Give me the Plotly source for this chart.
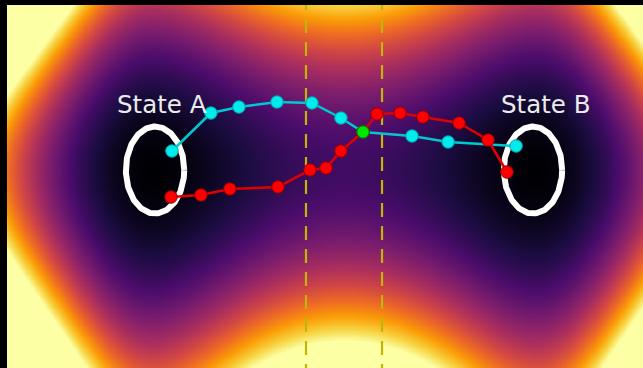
import numpy as np
import plotly.graph_objects as go

# --- potential energy surface (reduced units) -------------------------------
X_RANGE = [-1.755, 1.557]
Y_RANGE = [-1.98, 1.65]
KX_OUTER = 1.2        # curvature outside the wells
BARRIER = 0.20        # saddle height between the wells
KY_TOP = 0.177        # confinement above the channel
KY_BOTTOM = 0.153     # confinement below the channel
PINCH_TOP = 0.45      # extra confinement near the saddle (upper side)
PINCH_BOTTOM = 0.8    # extra confinement near the saddle (lower side)
CORNER_COUPLING = 3.2

# --- sampled paths ----------------------------------------------------------
path1_x = [-0.896, -0.693, -0.547, -0.349, -0.167, -0.016, 0.099, 0.354, 0.542, 0.896]
path1_y = [0.19, 0.57, 0.63, 0.68, 0.67, 0.52, 0.38, 0.34, 0.28, 0.24]

path2_x = [-0.901, -0.745, -0.594, -0.344, -0.177, -0.094, -0.016, 0.099,
           0.172, 0.292, 0.411, 0.599, 0.75, 0.849]
path2_y = [-0.27, -0.25, -0.19, -0.17, 0.0, 0.02, 0.19, 0.38,
           0.56, 0.57, 0.53, 0.47, 0.30, -0.02]

saddle_x = [0.099]
saddle_y = [0.38]

# dividing surfaces
surface_x = [-0.198, 0.198]

# metastable basins
state_names = ["State A", "State B"]
state_cx = [-0.984, 0.984]
state_cy = [0.0, 0.0]
state_ax = [0.152, 0.152]
state_ay = [0.435, 0.435]
label_x = [-0.948, 1.047]
label_y = [0.66, 0.66]

xs = np.linspace(X_RANGE[0] - 0.01, X_RANGE[1] + 0.01, 420)
ys = np.linspace(Y_RANGE[0] - 0.01, Y_RANGE[1] + 0.01, 300)
X, Y = np.meshgrid(xs, ys)
S = np.abs(X)
inner = np.where(S < 1, (1 - S ** 2) ** 2, 0.0)
f_out = np.where(S >= 1, KX_OUTER * (S - 1) ** 2, 0.0)
F = f_out + BARRIER * inner
G = np.where(Y >= 0,
             KY_TOP * Y ** 2 * (1 + PINCH_TOP * inner),
             KY_BOTTOM * Y ** 2 * (1 + PINCH_BOTTOM * inner))
V = F + G + CORNER_COUPLING * f_out * G
Z = np.clip(V, 0, 1)

fig = go.Figure()
fig.add_trace(go.Heatmap(x=xs, y=ys, z=Z, colorscale="Inferno", zmin=0, zmax=1,
                         showscale=False, zsmooth="best", hoverinfo="skip"))

for sx in surface_x:
    fig.add_trace(go.Scatter(x=[sx, sx], y=[Y_RANGE[0] - 0.1, Y_RANGE[1] + 0.1],
                             mode="lines", hoverinfo="skip",
                             line=dict(color="rgb(195,180,10)", width=2.2, dash="14px,9px")))

t = np.linspace(0, 2 * np.pi, 200)
for cx, cy, ax, ay in zip(state_cx, state_cy, state_ax, state_ay):
    fig.add_trace(go.Scatter(x=cx + ax * np.cos(t), y=cy + ay * np.sin(t), mode="lines",
                             hoverinfo="skip", line=dict(color="white", width=6)))

fig.add_trace(go.Scatter(x=path1_x, y=path1_y, mode="lines+markers",
                         line=dict(color="rgb(0,200,210)", width=2.5),
                         marker=dict(size=12.5, color="rgb(0,235,235)",
                                     line=dict(color="rgb(0,160,170)", width=1))))
fig.add_trace(go.Scatter(x=path2_x, y=path2_y, mode="lines+markers",
                         line=dict(color="rgb(225,0,0)", width=2.5),
                         marker=dict(size=12.5, color="rgb(255,0,0)",
                                     line=dict(color="rgb(140,0,0)", width=1))))
fig.add_trace(go.Scatter(x=saddle_x, y=saddle_y, mode="markers",
                         marker=dict(size=12.5, color="rgb(0,230,0)",
                                     line=dict(color="rgb(0,100,0)", width=1))))

for name, lx, ly in zip(state_names, label_x, label_y):
    fig.add_annotation(x=lx, y=ly, text=name, showarrow=False,
                       font=dict(family="DejaVu Sans", size=24.5, color="rgb(235,235,235)"))

fig.update_layout(width=643, height=368, margin=dict(l=7, r=0, t=5, b=0),
                  paper_bgcolor="black", plot_bgcolor="black", showlegend=False)
fig.update_xaxes(range=X_RANGE, visible=False)
fig.update_yaxes(range=Y_RANGE, visible=False)
fig.write_html("out.html")
